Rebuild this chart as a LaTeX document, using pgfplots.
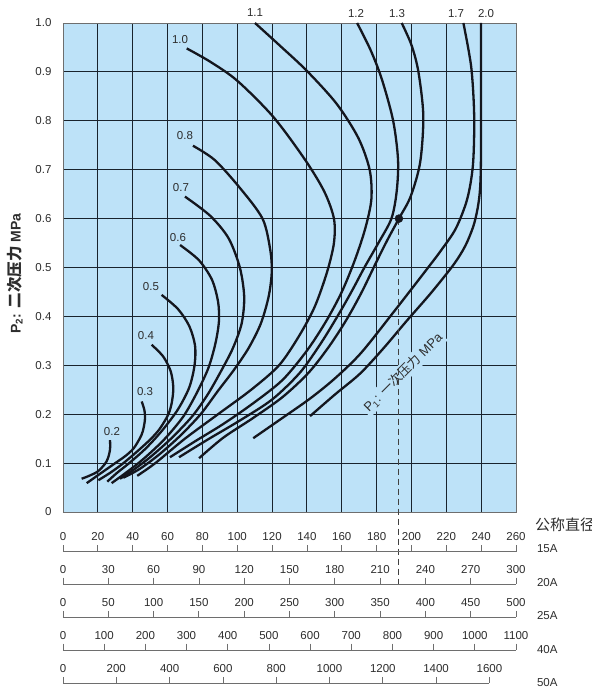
\documentclass[border=0pt]{standalone}
\usepackage{fontspec}
\setmainfont{Liberation Sans}
\newfontfamily\cjk{Noto Sans CJK SC}
\usepackage{pgfplots}
\pgfplotsset{compat=1.18}
\definecolor{bgblue}{RGB}{189,226,248}
\definecolor{gridc}{RGB}{25,35,45}
\definecolor{curvec}{RGB}{20,22,30}
\definecolor{axc}{RGB}{110,110,110}
\definecolor{txt}{RGB}{45,45,45}
\pgfplotsset{
  cv/.style={curvec, line width=2.3pt, smooth, tension=0.5, no marks},
  scaleaxis/.style={
    scale only axis, height=5pt, ymin=0, ymax=1,
    anchor=north west,
    axis x line=top, axis y line=none,
    axis line style={-, axc, line width=0.8pt},
    x axis line style={-},
    tick align=outside, major tick length=6.5pt,
    tick style={axc, line width=0.8pt},
    xticklabel style={font=\fontsize{11.5}{13}\selectfont, text=txt, inner sep=1pt, yshift=3pt},
    scaled x ticks=false,
    /pgf/number format/1000 sep={},
    /pgf/number format/assume math mode=true,
  }
}
\begin{document}
\begin{tikzpicture}[x=1pt,y=1pt]
\useasboundingbox (-63pt,-177pt) rectangle (529pt,512pt);
\begin{axis}[
  at={(0pt,0pt)}, anchor=south west,
  scale only axis, width=453pt, height=489pt,
  xmin=0,xmax=260,ymin=0,ymax=1,
  xtick={0,20,...,260}, xticklabels={},
  ytick={0,0.1,0.2,0.3,0.4,0.5,0.6,0.7,0.8,0.9,1.0},
  yticklabels={0,0.1,0.2,0.3,0.4,0.5,0.6,0.7,0.8,0.9,1.0},
  grid=major, major grid style={gridc, line width=0.9pt},
  major tick length=0pt,
  axis background/.style={fill=bgblue},
  axis line style={axc, line width=0.9pt},
  clip=false,
  yticklabel style={font=\fontsize{11.5}{13}\selectfont, text=txt, xshift=-8pt},
]
% 0.2
\addplot[cv] coordinates {(27.0,0.147) (27.0,0.128) (25.8,0.110) (24.0,0.098) (20.0,0.083) (15.0,0.074) (10.7,0.068)};
% 0.3
\addplot[cv] coordinates {(45.2,0.226) (46.8,0.207) (47.0,0.188) (45.8,0.165) (44,0.15) (40.5,0.13) (36,0.115) (30,0.1) (22,0.08) (13.6,0.059)};
% 0.4
\addplot[cv] coordinates {(50.9,0.342) (57.5,0.318) (61.8,0.288) (63.3,0.255) (62.5,0.225) (60.5,0.2) (55.5,0.17) (50,0.148) (42,0.122) (34,0.098) (27,0.08) (20.3,0.065)};
% 0.5
\addplot[cv] coordinates {(56.6,0.444) (66,0.415) (72.5,0.38) (75.8,0.34) (75.5,0.3) (72.5,0.255) (66,0.21) (57,0.167) (47.5,0.13) (38,0.1) (31,0.08) (25.4,0.062)};
% 0.6
\addplot[cv] coordinates {(67.2,0.546) (78,0.515) (85.5,0.475) (89,0.43) (89.5,0.39) (87.5,0.345) (83.5,0.295) (77,0.245) (69,0.195) (58,0.148) (46,0.108) (36,0.08) (27.9,0.059)};
% 0.7
\addplot[cv] coordinates {(70,0.645) (84.4,0.606) (95,0.56) (101.5,0.5) (104,0.44) (102.5,0.385) (97.5,0.335) (91,0.29) (83,0.24) (74,0.195) (62,0.15) (50,0.112) (40,0.085) (32.7,0.068)};
% 0.8
\addplot[cv] coordinates {(74.6,0.749) (87,0.72) (101,0.665) (114.5,0.6) (119,0.535) (119.8,0.49) (118,0.44) (113.5,0.385) (106.5,0.335) (98,0.29) (89,0.248) (79,0.2) (67,0.155) (55,0.117) (44,0.088) (34.6,0.070)};
% 1.0
\addplot[cv] coordinates {(71,0.948) (84.4,0.921) (100,0.882) (120.7,0.808) (139,0.72) (150,0.655) (155.5,0.6) (155.5,0.55) (151.5,0.49) (144.5,0.42) (135.5,0.36) (124,0.3) (108,0.25) (89,0.2) (70,0.15) (53,0.1) (42.6,0.074)};
% 1.1
\addplot[cv] coordinates {(110.2,1.0) (125,0.952) (140,0.902) (157,0.835) (169.5,0.765) (176,0.7) (177,0.64) (173.5,0.58) (167.5,0.515) (160,0.45) (151,0.39) (140,0.33) (126,0.27) (109,0.222) (92,0.18) (76,0.145) (61.4,0.112)};
% 1.2
\addplot[cv] coordinates {(168.8,1.0) (176.5,0.945) (183,0.885) (189.5,0.8) (192.3,0.72) (191.5,0.655) (188.5,0.6) (181,0.55) (173,0.5) (165.5,0.45) (157.5,0.4) (148,0.345) (136,0.285) (120,0.23) (101,0.186) (83,0.148) (66.6,0.112)};
% 1.3
\addplot[cv] coordinates {(194.4,1.0) (200,0.955) (204,0.9) (206.8,0.81) (205,0.715) (199.5,0.645) (192.8,0.6) (186,0.555) (179,0.505) (171.5,0.45) (163,0.395) (153,0.34) (141,0.285) (126,0.235) (109,0.192) (92,0.152) (78.1,0.11)};
% 1.7
\addplot[cv] coordinates {(229.8,1.0) (234.3,0.91) (236,0.81) (235.3,0.71) (232,0.64) (225.5,0.58) (217,0.535) (208.5,0.495) (190,0.41) (171,0.325) (156,0.273) (141.8,0.232) (125,0.19) (109.2,0.151)};
% 2.0
\addplot[cv] coordinates {(239.9,1.0) (239.9,0.85) (239.8,0.7) (238.8,0.64) (236,0.59) (231,0.545) (224,0.505) (211,0.447) (197.3,0.391) (184,0.335) (170.5,0.283) (156,0.24) (141.8,0.196)};

\begin{scope}[font=\fontsize{11.5}{13}\selectfont, text=txt]
\node at (axis cs:28.1,0.164) {0.2};
\node at (axis cs:47.1,0.247) {0.3};
\node at (axis cs:47.6,0.36) {0.4};
\node at (axis cs:50.5,0.462) {0.5};
\node at (axis cs:66,0.562) {0.6};
\node at (axis cs:67.7,0.663) {0.7};
\node at (axis cs:70,0.769) {0.8};
\node at (axis cs:67.2,0.967) {1.0};
\node at (axis cs:110.2,1.022) {1.1};
\node at (axis cs:168.2,1.02) {1.2};
\node at (axis cs:191.7,1.02) {1.3};
\node at (axis cs:225.6,1.02) {1.7};
\node at (axis cs:242.8,1.02) {2.0};
\end{scope}
\node[rotate=45, fill=bgblue, inner sep=2pt, font=\fontsize{13}{15}\selectfont, text=txt] at (axis cs:195.2,0.285) {P\textsubscript{1}: {\cjk 一次压力} MPa};
\end{axis}

% overlay axis: dashed reading line and operating point
\begin{axis}[
  at={(0pt,0pt)}, anchor=south west,
  scale only axis, width=453pt, height=489pt,
  xmin=0,xmax=260,ymin=0,ymax=1, hide axis, clip=false,
]
\addplot[sharp plot, no marks, black!75, line width=1pt, dash pattern=on 6pt off 4pt] coordinates {(192.8,0.6) (192.8,-0.1472)};
\addplot[only marks, mark=*, mark size=4pt, curvec] coordinates {(192.8,0.6)};
\end{axis}

% nominal diameter scales
\begin{axis}[scaleaxis, at={(0pt,-39.7pt)}, width=453pt, xmin=0, xmax=260, xtick={0,20,...,260}]
\end{axis}
\begin{axis}[scaleaxis, at={(0pt,-72pt)}, width=453pt, xmin=0, xmax=300, xtick={0,30,...,300}]
\end{axis}
\begin{axis}[scaleaxis, at={(0pt,-105.3pt)}, width=453pt, xmin=0, xmax=500, xtick={0,50,...,500}]
\end{axis}
\begin{axis}[scaleaxis, at={(0pt,-138pt)}, width=453pt, xmin=0, xmax=1100, xtick={0,100,...,1100}]
\end{axis}
\begin{axis}[scaleaxis, at={(0pt,-171.3pt)}, width=426.4pt, xmin=0, xmax=1600, xtick={0,200,...,1600}]
\end{axis}

\begin{scope}[font=\fontsize{11.5}{13}\selectfont, text=txt]
\node[anchor=west] at (470.5pt,-37pt) {15A};
\node[anchor=west] at (470.5pt,-70.7pt) {20A};
\node[anchor=west] at (470.5pt,-104pt) {25A};
\node[anchor=west] at (470.5pt,-137.3pt) {40A};
\node[anchor=west] at (470.5pt,-170.3pt) {50A};
\end{scope}
\node[anchor=west, inner sep=0pt, font=\cjk\fontsize{15}{17}\selectfont, text=txt] at (472pt,-13pt) {公称直径};
\node[rotate=90, font=\bfseries\fontsize{14}{16}\selectfont, text=txt] at (-48pt,238.5pt) {P\textsubscript{2}: {\cjk\bfseries\fontsize{15.5}{17}\selectfont 二次压力} MPa};
\end{tikzpicture}
\end{document}
